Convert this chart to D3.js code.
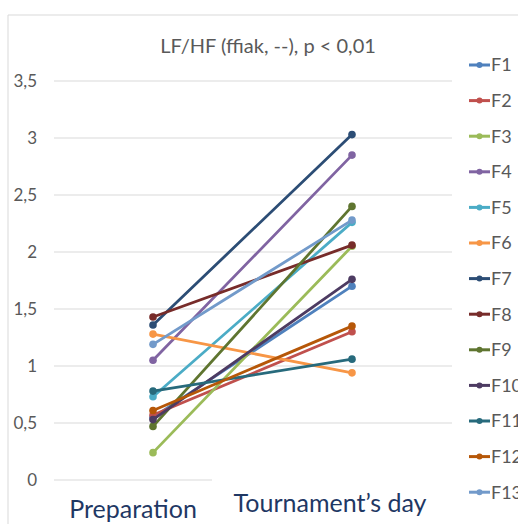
<!DOCTYPE html>
<html><head><meta charset="utf-8">
<script src="https://cdn.jsdelivr.net/npm/d3@7"></script>
<style>html,body{margin:0;padding:0;background:#fff;}svg{display:block;font-family:Lato,"Open Sans",sans-serif;}</style>
</head><body>
<svg id="c" width="518" height="524"></svg>
<script>
const categories = ["Preparation", "Tournament\u2019s day"];
const seriesNames = ["F1","F2","F3","F4","F5","F6","F7","F8","F9","F10","F11","F12","F13"];
const preparation = [0.55, 0.57, 0.24, 1.05, 0.73, 1.28, 1.36, 1.43, 0.47, 0.53, 0.78, 0.61, 1.19];
const tournament  = [1.70, 1.30, 2.05, 2.85, 2.26, 0.94, 3.03, 2.06, 2.40, 1.76, 1.06, 1.35, 2.28];
const yTicks = [0, 0.5, 1, 1.5, 2, 2.5, 3, 3.5];
const colors = ["#4F81BD","#C0504D","#9BBB59","#8064A2","#4BACC6","#F79646","#2C4D75","#772C2A","#5F7530","#4D3B62","#276A7C","#B65708","#729ACA"];
const title = "LF/HF (ffiak, --), p < 0,01";

const svg = d3.select("#c");
const fmt = v => String(v).replace(".", ",");

// chart frame
svg.append("line").attr("x1",8).attr("x2",518).attr("y1",15).attr("y2",15).attr("stroke","#d9d9d9");
svg.append("line").attr("x1",8).attr("x2",8).attr("y1",15).attr("y2",524).attr("stroke","#d9d9d9");

const y = d3.scaleLinear().domain([0,3.5]).range([480,81]);
const x = d3.scalePoint().domain(categories).range([153,352]);

// gridlines
svg.append("g").selectAll("line").data(yTicks).join("line")
  .attr("x1",54).attr("x2",d => d===0 ? 212 : 452)
  .attr("y1",d=>y(d)).attr("y2",d=>y(d))
  .attr("stroke","#d9d9d9").attr("stroke-width",1);

// y labels
svg.append("g").selectAll("text").data(yTicks).join("text")
  .attr("x",37).attr("y",d=>y(d)).attr("dy","0.35em").attr("text-anchor","end")
  .attr("font-size",17).attr("fill","#595959").text(fmt);

// title
svg.append("text").attr("x",268).attr("y",53).attr("text-anchor","middle")
  .attr("font-size",20).attr("fill","#595959").text(title);

// x labels
const xLabelPos = [{cx:133, y:518}, {cx:330, y:512}];
svg.append("g").selectAll("text").data(categories).join("text")
  .attr("x",(d,i)=>xLabelPos[i].cx).attr("y",(d,i)=>xLabelPos[i].y)
  .attr("text-anchor","middle").attr("font-size",25).attr("fill","#1F3864").text(d=>d);

// series
const series = seriesNames.map((n,i)=>({name:n, color:colors[i], values:[preparation[i], tournament[i]]}));
const line = d3.line().x((d,i)=>x(categories[i])).y(d=>y(d));
const g = svg.append("g");
series.forEach(s=>{
  g.append("path").attr("d",line(s.values)).attr("fill","none")
    .attr("stroke",s.color).attr("stroke-width",2.8).attr("stroke-linecap","round");
  g.selectAll(null).data(s.values).join("circle")
    .attr("cx",(d,i)=>x(categories[i])).attr("cy",d=>y(d)).attr("r",3.8).attr("fill",s.color);
});

// legend
const lg = svg.append("g");
const ly = i => 65 + i*35.6;
series.forEach((s,i)=>{
  lg.append("line").attr("x1",469).attr("x2",490).attr("y1",ly(i)).attr("y2",ly(i))
    .attr("stroke",s.color).attr("stroke-width",3);
  lg.append("circle").attr("cx",479.5).attr("cy",ly(i)).attr("r",3).attr("fill",s.color);
  lg.append("text").attr("x",491).attr("y",ly(i)).attr("dy","0.36em")
    .attr("font-size",18).attr("fill","#595959").text(s.name);
});
</script>
</body></html>
